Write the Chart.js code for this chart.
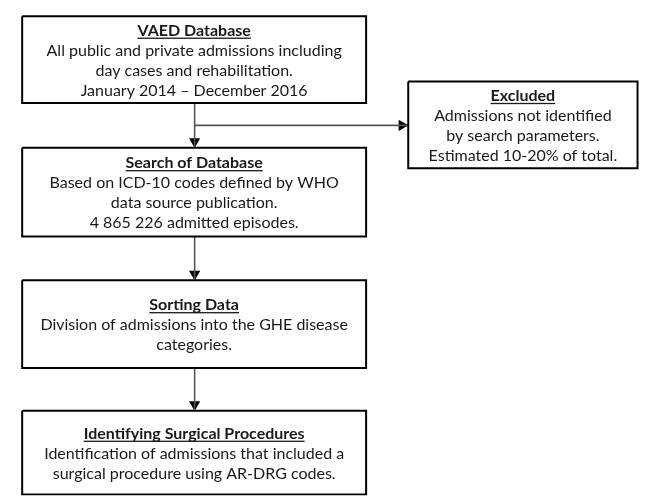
<!DOCTYPE html>
<html>
<head>
<meta charset="utf-8">
<script src="https://cdn.jsdelivr.net/npm/chart.js@4/dist/chart.umd.min.js"></script>
<style>
  html, body { margin: 0; padding: 0; background: #fff; }
  canvas { display: block; }
</style>
</head>
<body>
<canvas id="flow" width="646" height="502"></canvas>
<script>
// text of each step
const titles = ['VAED Database', 'Excluded', 'Search of Database', 'Sorting Data', 'Identifying Surgical Procedures'];
const bodyLines = [
  ['All public and private admissions including', 'day cases and rehabilitation.', 'January 2014 \u2013 December 2016'],
  ['Admissions not identified', 'by search parameters.', 'Estimated 10-20% of total.'],
  ['Based on ICD-10 codes defined by WHO', 'data source publication.', '4 865 226 admitted episodes.'],
  ['Division of admissions into the GHE disease', 'categories.'],
  ['Identification of admissions that included a', 'surgical procedure using AR-DRG codes.']
];
// which step flows into which
const links = [[0, 2], [0, 1], [2, 3], [3, 4]];

// layout (in scale units = px), kept apart from the data
const frames = [
  { l: 16, t: 10, r: 367, b: 99 },
  { l: 410, t: 77, r: 644, b: 166 },
  { l: 16, t: 145, r: 367, b: 236 },
  { l: 16, t: 281, r: 367, b: 371 },
  { l: 16, t: 415, r: 367, b: 501 }
];
const trunkX = 192;
const branchY = 122;
const headR = 6.5;

const datasets = [];

// boxes as closed line paths
frames.forEach(f => {
  datasets.push({
    type: 'line',
    data: [{x: f.l, y: f.t}, {x: f.r, y: f.t}, {x: f.r, y: f.b}, {x: f.l, y: f.b}, {x: f.l, y: f.t}],
    borderColor: '#000',
    borderWidth: 2,
    pointRadius: 0,
    fill: false,
    tension: 0
  });
});

// connectors
links.forEach(([from, to]) => {
  const a = frames[from], b = frames[to];
  let pts, head, rot;
  if (b.l > a.r) {
    pts = [{x: trunkX, y: branchY}, {x: b.l, y: branchY}];
    head = {x: b.l - headR, y: branchY};
    rot = 90;
  } else {
    pts = [{x: trunkX, y: a.b}, {x: trunkX, y: b.t}];
    head = {x: trunkX, y: b.t - headR};
    rot = 180;
  }
  datasets.push({
    type: 'line', data: pts, borderColor: '#555', borderWidth: 1.6,
    pointRadius: 0, fill: false
  });
  datasets.push({
    type: 'scatter', data: [head], pointStyle: 'triangle', rotation: rot,
    pointRadius: headR, backgroundColor: '#000', borderColor: '#000', borderWidth: 0
  });
});

const textPlugin = {
  id: 'boxText',
  afterDatasetsDraw(chart) {
    const ctx = chart.ctx;
    const xs = chart.scales.x, ys = chart.scales.y;
    ctx.save();
    ctx.fillStyle = '#1a1a1a';
    ctx.textAlign = 'center';
    ctx.textBaseline = 'middle';
    frames.forEach((f, i) => {
      const lines = [titles[i]].concat(bodyLines[i]);
      const cx = xs.getPixelForValue((f.l + f.r) / 2);
      const cy = ys.getPixelForValue((f.t + f.b) / 2) + 1;
      const step = 20;
      const y0 = cy - step * (lines.length - 1) / 2;
      lines.forEach((s, k) => {
        const y = y0 + k * step;
        ctx.font = (k === 0 ? 'bold ' : '') + '16px Lato';
        ctx.fillText(s, cx, y);
        if (k === 0) {
          const w = ctx.measureText(s).width;
          ctx.fillRect(cx - w / 2, y + 7, w, 1.3);
        }
      });
    });
    ctx.restore();
  }
};

new Chart(document.getElementById('flow'), {
  type: 'scatter',
  data: { datasets },
  options: {
    responsive: false,
    animation: false,
    layout: { padding: 0 },
    scales: {
      x: { type: 'linear', min: 0, max: 646, display: false },
      y: { type: 'linear', min: 0, max: 502, reverse: true, display: false }
    },
    plugins: { legend: { display: false }, tooltip: { enabled: false } }
  },
  plugins: [textPlugin]
});
</script>
</body>
</html>
